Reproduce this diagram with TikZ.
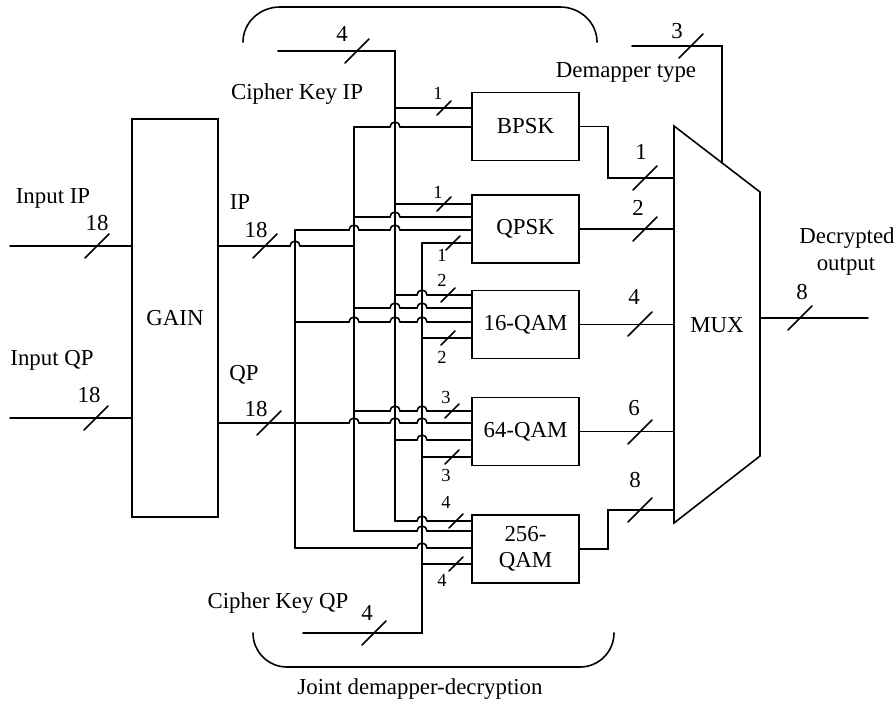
\documentclass[tikz,border=0pt]{standalone}
\usepackage{fontspec}
\setmainfont{Liberation Serif}
\usepackage{tikz}
\usetikzlibrary{positioning,calc}
\tikzset{
    wire/.style={line width=0.9pt, line cap=round},
    blk/.style={
        draw,
        line width=0.9pt,
        minimum width=21.4mm,
        minimum height=13.6mm,
        align=center,
        inner sep=1pt,
        font=\fontsize{13}{14.7}\selectfont
    },
    txt/.style={font=\fontsize{13}{14.7}\selectfont, inner sep=0pt, anchor=base},
    num/.style={font=\fontsize{13}{14.7}\selectfont, inner sep=0pt},
    knum/.style={font=\fontsize{10.5}{12}\selectfont, inner sep=0pt},
    % bus width marks
    pics/slash/.style={code={\draw[wire] (-12,12) -- (12,-12);}},
    pics/tick/.style={code={\draw[wire] (-7,7) -- (7,-7);}}
}
% wire at height #2 from #1 to #4, hopping over the buses at #3
\newcommand{\hopline}[4]{%
    \draw[wire] (#1 |- 0,#2) \foreach \h in {#3} {-- (\h-5,#2) arc[start angle=180, end angle=0, radius=1mm]} -- (#4 |- 0,#2);}

\begin{document}
\begin{tikzpicture}[x=0.2mm, y=-0.2mm]
\useasboundingbox (0,0) rectangle (895,702);

% Gain stage
\node[blk, minimum width=17.2mm, minimum height=79.6mm] (gain) at (175,318) {GAIN};
\coordinate (inip) at (10,246);
\coordinate (inqp) at (10,418);
\draw[wire] (inip) -- (gain.west |- inip);
\draw[wire] (inqp) -- (gain.west |- inqp);
\node[txt] (tinip) at (53,203) {Input IP};
\node[txt] (tinqp) at (52,365) {Input QP};
\node[txt] (tip) at (240,209) {IP};
\node[txt] (tqp) at (244,380) {QP};

% Demappers
\node[blk] (bpsk) at (525.5,126.5) {BPSK};
\node[blk] (qpsk) at (525.5,229) {QPSK};
\node[blk] (qam16) at (525.5,324.5) {16-QAM};
\node[blk] (qam64) at (525.5,431.5) {64-QAM};
\node[blk] (qam256) at (525.5,549) {256-\\QAM};

% Buses
\coordinate (kip) at (395,51);
\coordinate (kqp) at (422,633);
\coordinate (ipbus) at (354,127);
\coordinate (qpbus) at (295,230);
\coordinate (kipin) at (278,51);
\coordinate (kqpin) at (303,633);
\draw[wire] (kipin) -- (kip) -- (kip |- 0,521);
\draw[wire] (kqpin) -- (kqp) -- (kqp |- 0,243);
\draw[wire] (ipbus) -- (ipbus |- 0,531);
\draw[wire] (qpbus) -- (qpbus |- 0,548);
\hopline{gain.east}{246}{295}{ipbus}
\hopline{gain.east}{423}{354,395,422}{qam64.west}
\node[txt] (tkip) at (297,99) {Cipher Key IP};
\node[txt] (tkqp) at (278,608) {Cipher Key QP};

% BPSK inputs
\draw[wire] (kip |- 0,108) -- (bpsk.west |- 0,108);
\hopline{ipbus}{127}{395}{bpsk.west}
% QPSK inputs
\draw[wire] (kip |- 0,204) -- (qpsk.west |- 0,204);
\hopline{ipbus}{217}{395}{qpsk.west}
\hopline{qpbus}{230}{354,395}{qpsk.west}
\draw[wire] (kqp |- 0,243) -- (qpsk.west |- 0,243);
% 16-QAM inputs
\hopline{kip}{295}{422}{qam16.west}
\hopline{ipbus}{308}{395,422}{qam16.west}
\hopline{qpbus}{322}{354,395,422}{qam16.west}
\draw[wire] (kqp |- 0,338) -- (qam16.west |- 0,338);
% 64-QAM inputs
\hopline{ipbus}{411}{395,422}{qam64.west}
\hopline{kip}{440}{422}{qam64.west}
\draw[wire] (kqp |- 0,457) -- (qam64.west |- 0,457);
% 256-QAM inputs
\hopline{kip}{521}{422}{qam256.west}
\hopline{ipbus}{531}{422}{qam256.west}
\hopline{qpbus}{548}{422}{qam256.west}
\draw[wire] (kqp |- 0,564) -- (qam256.west |- 0,564);

% MUX
\coordinate (mux-tl) at (674,126);
\coordinate (mux-tr) at (760,192);
\coordinate (mux-br) at (760,456);
\coordinate (mux-bl) at (674,523);
\draw[wire] (mux-tl) -- (mux-tr) -- (mux-br) -- (mux-bl) -- cycle;
\node[txt] (mux) at (717,332) {MUX};
\draw[wire] (bpsk.east) -- ++(28,0) |- (mux-tl |- 0,178);
\draw[wire] (qpsk.east) -- (mux-tl |- qpsk.east);
\draw[wire] (qam16.east) -- (mux-tl |- qam16.east);
\draw[wire] (qam64.east) -- (mux-tl |- qam64.east);
\draw[wire] (qam256.east) -- ++(28,0) |- (mux-tl |- 0,510);
\coordinate (dmin) at (632,46);
\coordinate (mux-sel) at ($(mux-tl)!0.558!(mux-tr)$);
\draw[wire] (dmin) -| (mux-sel);
\node[txt] (tdm) at (626,77) {Demapper type};
\coordinate (outp) at (868,318);
\draw[wire] (mux-tr |- outp) -- (outp);
\node[txt] (tdec) at (847,243) {Decrypted};
\node[txt] (tout) at (846,270) {output};

% Joint block brackets
\draw[wire] (243,42) arc[start angle=180, end angle=90, x radius=7.4mm, y radius=7mm] -- (560,7)
    arc[start angle=90, end angle=0, x radius=7.4mm, y radius=7mm];
\draw[wire] (253,633) arc[start angle=180, end angle=270, radius=6.8mm] -- (580,667)
    arc[start angle=270, end angle=360, radius=6.8mm];
\node[txt] (tjoint) at (420,694) {Joint demapper-decryption};

% Bus widths
\pic at (97,246) {slash};  \node[num] (w1) at (97,223) {18};
\pic at (265,246) {slash}; \node[num] (w2) at (256,230) {18};
\pic at (96,418) {slash};  \node[num] (w3) at (89,395) {18};
\pic at (269,423) {slash}; \node[num] (w4) at (256,409) {18};
\pic at (357,51) {slash};  \node[num] (w5) at (342,34) {4};
\pic at (374,633) {slash}; \node[num] (w6) at (367,613) {4};
\pic at (691,46) {slash};  \node[num] (w7) at (677,31) {3};
\pic at (645,178) {slash}; \node[num] (w8) at (641,152) {1};
\pic at (645,229) {slash}; \node[num] (w9) at (638,208) {2};
\pic at (640,324) {slash}; \node[num] (w10) at (634,297) {4};
\pic at (640,432) {slash}; \node[num] (w11) at (634,408) {6};
\pic at (640,510) {slash}; \node[num] (w12) at (635,480) {8};
\pic at (800,318) {slash}; \node[num] (w13) at (802,292) {8};
% Key widths
\pic at (444,108) {tick}; \node[knum] (k1) at (438,93) {1};
\pic at (444,204) {tick}; \node[knum] (k2) at (438,192) {1};
\pic at (453,243) {tick}; \node[knum] (k3) at (442,255) {1};
\pic at (448,295) {tick}; \node[knum] (k4) at (442,280) {2};
\pic at (448,338) {tick}; \node[knum] (k5) at (442,357) {2};
\pic at (452,411) {tick}; \node[knum] (k6) at (446,397) {3};
\pic at (452,457) {tick}; \node[knum] (k7) at (446,475) {3};
\pic at (456,521) {tick}; \node[knum] (k8) at (446,502) {4};
\pic at (456,564) {tick}; \node[knum] (k9) at (442,580) {4};
\end{tikzpicture}
\end{document}
